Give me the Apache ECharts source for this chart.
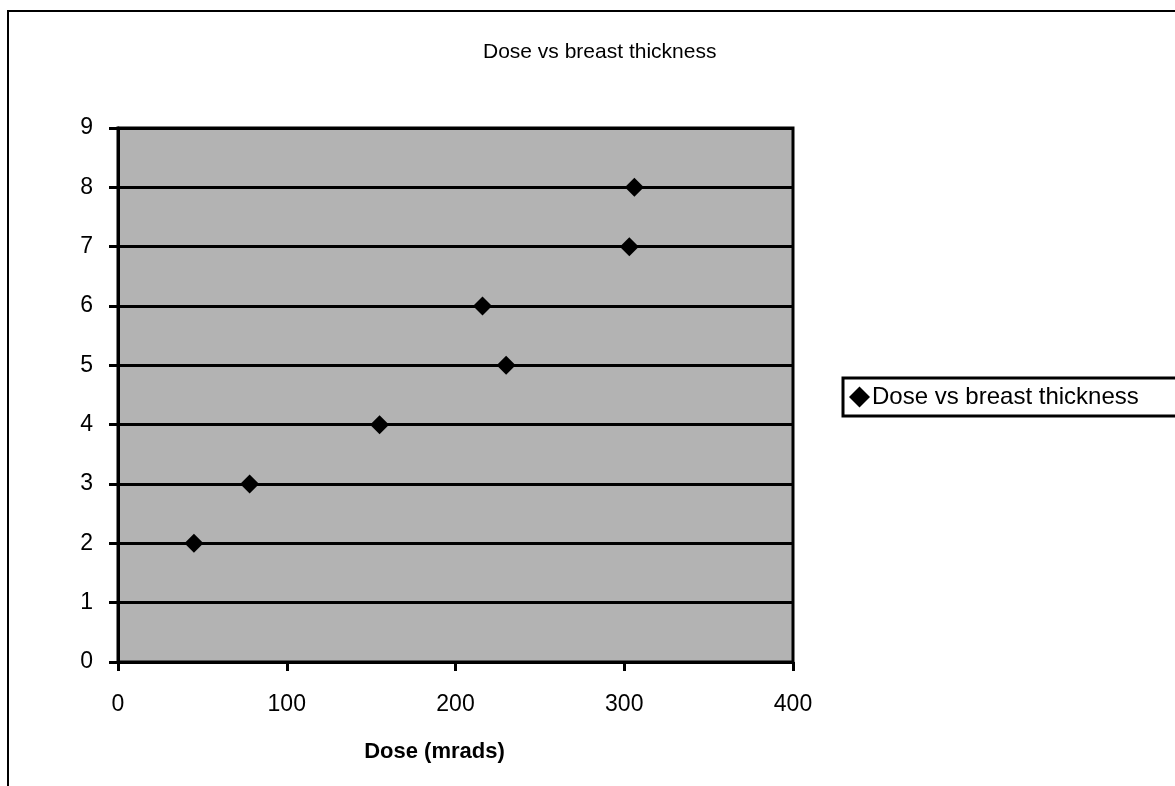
<!DOCTYPE html>
<html><head><meta charset="utf-8">
<script src="https://cdn.jsdelivr.net/npm/echarts@6/dist/echarts.min.js"></script>
<style>html,body{margin:0;padding:0;background:#fff}#c{width:1175px;height:786px}</style>
</head><body><div id="c"></div>
<script>
var doseValues = [45, 78, 155, 216, 230, 303, 306];
var thicknessValues = [2, 3, 4, 6, 5, 7, 8];
var seriesName = 'Dose vs breast thickness';
var chartTitle = 'Dose vs breast thickness';
var xAxisName = 'Dose (mrads)';

var points = doseValues.map(function (d, i) { return [d, thicknessValues[i]]; });
var chart = echarts.init(document.getElementById('c'));
chart.setOption({
  animation: false,
  backgroundColor: '#fff',
  textStyle: { fontFamily: 'Liberation Sans, Arial, sans-serif' },
  title: { text: chartTitle, left: 478, top: 37, textStyle: { fontSize: 21, fontWeight: 'normal', color: '#000' } },
  graphic: [{ type: 'rect', shape: { x: 8, y: 11, width: 1200, height: 800 }, style: { fill: 'none', stroke: '#000', lineWidth: 2 }, z: -1 }],
  legend: {
    left: 843, top: 378, icon: 'diamond', itemWidth: 21, itemHeight: 21, itemGap: 4,
    borderColor: '#000', borderWidth: 3, backgroundColor: '#fff',
    padding: [7, 60, 7, 6],
    itemStyle: { opacity: 1, color: '#000' },
    textStyle: { fontSize: 24, color: '#000', padding: [0, 0, 0, -3] },
    data: [seriesName]
  },
  grid: { left: 118, right: 382, top: 128, bottom: 124, show: true, backgroundColor: '#b3b3b3', borderColor: '#000', borderWidth: 3 },
  xAxis: {
    type: 'value', min: 0, max: 400, interval: 100,
    name: xAxisName, nameLocation: 'middle', nameGap: 79,
    nameTextStyle: { fontSize: 22, fontWeight: 'bold', color: '#000', padding: [0, 42, 0, 0] },
    axisLine: { show: true, lineStyle: { color: '#000', width: 3 } },
    axisTick: { show: true, length: 9, lineStyle: { color: '#000', width: 3 } },
    axisLabel: { fontSize: 23, color: '#000', margin: 31 },
    splitLine: { show: false }
  },
  yAxis: {
    type: 'value', min: 0, max: 9, interval: 1,
    axisLine: { show: true, lineStyle: { color: '#000', width: 3 } },
    axisTick: { show: true, length: 9, lineStyle: { color: '#000', width: 3 } },
    axisLabel: { fontSize: 23, color: '#000', margin: 25 },
    splitLine: { show: true, lineStyle: { color: '#000', width: 3 } }
  },
  series: [{
    name: seriesName, type: 'scatter', symbol: 'diamond', symbolSize: 19,
    itemStyle: { color: '#000', opacity: 1 }, data: points
  }]
});
</script></body></html>
